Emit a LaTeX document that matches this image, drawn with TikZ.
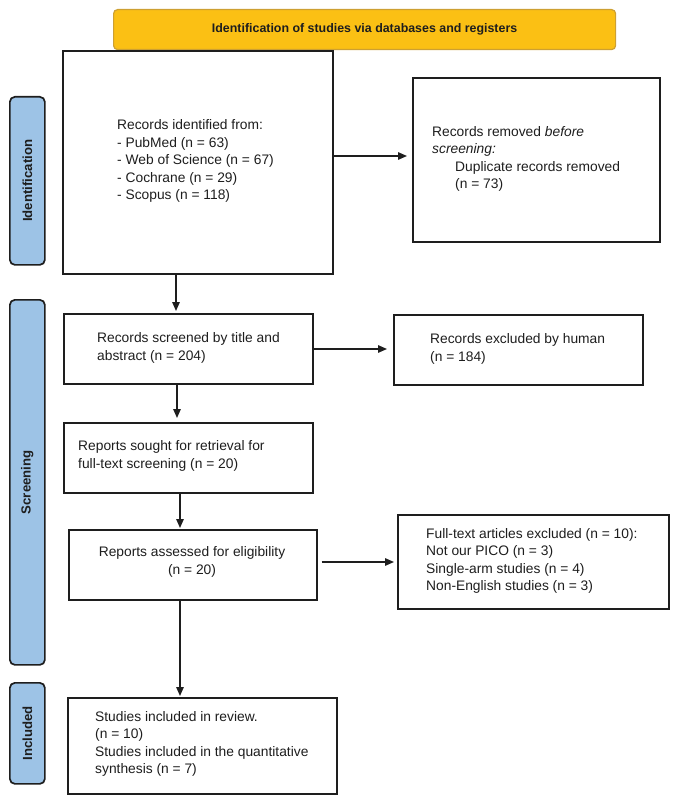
\documentclass[tikz,border=0pt]{standalone}
\usepackage{fontspec}
\setmainfont{Liberation Sans}
\usetikzlibrary{arrows.meta,calc}
\definecolor{bannerfill}{RGB}{251,192,20}
\definecolor{bannerline}{RGB}{205,160,50}
\definecolor{sidefill}{RGB}{157,195,230}
\definecolor{ink}{RGB}{30,30,30}
\begin{document}
\begin{tikzpicture}[x=1pt,y=-1pt,
  box/.style={draw=ink, line width=1.7pt, fill=white, inner sep=0pt, anchor=north west},
  txt/.style={text=ink, font=\fontsize{13.8}{17.5}\selectfont, align=left, inner sep=0pt, anchor=west},
  sidebar/.style={draw=ink, line width=1.7pt, fill=sidefill, rounded corners=5pt, inner sep=0pt,
    anchor=north west, minimum width=35pt, text=ink, font=\bfseries\fontsize{13.2}{15}\selectfont},
  banner/.style={draw=bannerline, line width=1.2pt, fill=bannerfill, rounded corners=4pt, inner sep=0pt,
    anchor=north west, text=ink, font=\bfseries\fontsize{12.4}{15}\selectfont},
  arr/.style={draw=ink, line width=1.4pt, -{Triangle[length=9pt,width=7.5pt]}}]
\useasboundingbox (0,0) rectangle (694,802);

% banner
\node[banner, minimum width=502pt, minimum height=40pt] (top) at (113,9) {Identification of studies via databases and registers};

% side bars
\node[sidebar, minimum height=168pt] (sid) at (9,96) {\rotatebox{90}{Identification}};
\node[sidebar, minimum height=365pt] (sscr) at (9,299) {\rotatebox{90}{Screening}};
\node[sidebar, minimum height=101pt] (sinc) at (9,682) {\rotatebox{90}{Included}};

% boxes
\node[box, minimum width=270pt, minimum height=223pt] (b1) at (62,50) {};
\node[box, minimum width=247pt, minimum height=164pt] (b2) at (412,77) {};
\node[box, minimum width=249pt, minimum height=70pt] (b3) at (63,313) {};
\node[box, minimum width=249pt, minimum height=70pt] (b4) at (393,314) {};
\node[box, minimum width=249pt, minimum height=70pt] (b5) at (63,422) {};
\node[box, minimum width=248pt, minimum height=70pt] (b6) at (68,529) {};
\node[box, minimum width=271pt, minimum height=94pt] (b7) at (397,514) {};
\node[box, minimum width=269pt, minimum height=96pt] (b8) at (67,697) {};

% texts
\node[txt] (t1) at (117,161) {Records identified from:\\- PubMed (n = 63)\\- Web of Science (n = 67)\\- Cochrane (n = 29)\\- Scopus (n = 118)};
\node[txt] (t2) at (432,159) {Records removed \textit{before}\\\textit{screening:}\\\hspace*{23pt}Duplicate records removed\\\hspace*{23pt}(n = 73)};
\node[txt] (t3) at (97,348) {Records screened by title and\\abstract (n = 204)};
\node[txt] (t4) at (430,349) {Records excluded by human\\(n = 184)};
\node[txt] (t5) at (78,456) {Reports sought for retrieval for\\full-text screening (n = 20)};
\node[txt, align=center, anchor=center] (t6) at (192,562) {Reports assessed for eligibility\\(n = 20)};
\node[txt] (t7) at (426,561) {Full-text articles excluded (n = 10):\\Not our PICO (n = 3)\\Single-arm studies (n = 4)\\Non-English studies (n = 3)};
\node[txt] (t8) at (95,744) {Studies included in review.\\(n = 10)\\Studies included in the quantitative\\synthesis (n = 7)};

% connectors
\draw[arr, shorten >=2pt] ([xshift=114pt]b1.south west) -- ([xshift=114pt]b1.south west |- b3.north);
\draw[arr, shorten >=5pt] ([yshift=-106pt]b1.north east) -- ([yshift=-106pt]b1.north east -| b2.west);
\draw[arr, shorten >=6pt] ([yshift=-36pt]b3.north east) -- ([yshift=-36pt]b3.north east -| b4.west);
\draw[arr, shorten >=4pt] ([xshift=114pt]b3.south west) -- ([xshift=114pt]b3.south west |- b5.north);
\draw[arr, shorten >=1pt] ([xshift=117pt]b5.south west) -- ([xshift=117pt]b5.south west |- b6.north);
\draw[arr, shorten <=4pt, shorten >=3pt] ([yshift=-33pt]b6.north east) -- ([yshift=-33pt]b6.north east -| b7.west);
\draw[arr, shorten >=1pt] ([xshift=112pt]b6.south west) -- ([xshift=112pt]b6.south west |- b8.north);
\end{tikzpicture}
\end{document}
